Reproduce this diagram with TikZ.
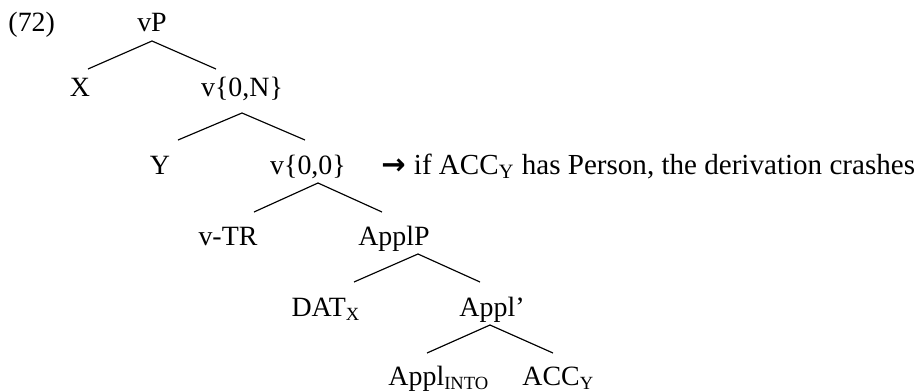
\documentclass[tikz,border=0pt]{standalone}
\usepackage{fontspec}
\setmainfont{Liberation Serif}
\newfontfamily\arrowfont{DejaVu Sans}

\begin{document}
\begin{tikzpicture}[x=0.43pt, y=-0.43pt,
    lbl/.style={anchor=base, inner sep=0pt, font=\fontsize{12}{14}\selectfont},
    branch/.style={line width=0.5pt, black}]

    \useasboundingbox (0,0) rectangle (919,391);

    % Example number
    \node[lbl, anchor=base west] (ex) at (8,31) {(72)};

    % Labels of the tree, row by row
    \node[lbl] (vP) at (152,31) {vP};

    \node[lbl] (X) at (80,96) {X};
    \node[lbl] (vN) at (242,96) {v\{0,N\}};

    \node[lbl] (Y) at (160,174) {Y};
    \node[lbl] (v00) at (308,174) {v\{0,0\}};
    \node[lbl, anchor=base west, font=\fontsize{12.5}{14}\selectfont] (note) at (381,174)
        {{\arrowfont\bfseries →}\hspace{0.28em}if ACC\textsubscript{Y} has Person, the derivation crashes};

    \node[lbl] (vTR) at (228,245) {v-TR};
    \node[lbl] (ApplP) at (394,245) {ApplP};

    \node[lbl] (DAT) at (326,316) {DAT\textsubscript{X}};
    \node[lbl] (Applbar) at (492,316) {Appl'};

    \node[lbl, anchor=base west] (Appl) at (388,385) {Appl\textsubscript{INTO}};
    \node[lbl, anchor=base west] (ACC) at (522,385) {ACC\textsubscript{Y}};

    % Branches
    \draw[branch] ([shift={(0,10)}]vP.base) -- ([shift={(8,-27)}]X.base);
    \draw[branch] ([shift={(0,10)}]vP.base) -- ([shift={(-26,-27)}]vN.base);

    \draw[branch] ([shift={(0,17)}]vN.base) -- ([shift={(18,-34)}]Y.base);
    \draw[branch] ([shift={(0,17)}]vN.base) -- ([shift={(-3,-34)}]v00.base);

    \draw[branch] ([shift={(10,9)}]v00.base) -- ([shift={(26,-33)}]vTR.base);
    \draw[branch] ([shift={(10,9)}]v00.base) -- ([shift={(-12,-33)}]ApplP.base);

    \draw[branch] ([shift={(24,9)}]ApplP.base) -- ([shift={(28,-34)}]DAT.base);
    \draw[branch] ([shift={(24,9)}]ApplP.base) -- ([shift={(-12,-34)}]Applbar.base);

    \draw[branch] ([shift={(-2,9)}]Applbar.base) -- ([shift={(39,-32)}]Appl.base west);
    \draw[branch] ([shift={(-2,9)}]Applbar.base) -- ([shift={(31,-32)}]ACC.base west);

\end{tikzpicture}
\end{document}
